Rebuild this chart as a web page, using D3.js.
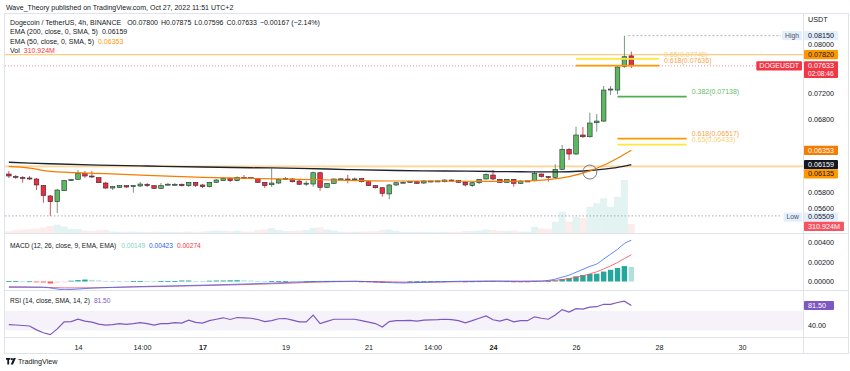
<!DOCTYPE html>
<html>
<head>
<meta charset="utf-8">
<script src="https://cdn.jsdelivr.net/npm/d3@7"></script>
<style>
  body { margin: 0; background: #fff; }
  svg { display: block; font-family: "Liberation Sans", Arial, sans-serif; }
</style>
</head>
<body>
<svg width="850" height="371"></svg>
<script>
// ---- data (DOGEUSDT 4h, Binance) ----
const opens = [0.06034,0.06002,0.05989,0.05982,0.05969,0.05885,0.05753,0.05682,0.05819,0.05950,
  0.05965,0.06043,0.06008,0.05986,0.05917,0.05853,0.05860,0.05883,0.05870,0.05879,
  0.05901,0.05883,0.05849,0.05901,0.05892,0.05901,0.05883,0.05926,0.05892,0.05870,
  0.05926,0.05947,0.05978,0.05947,0.05991,0.05986,0.05978,0.05926,0.05895,0.05917,
  0.05965,0.05969,0.05943,0.05913,0.05904,0.06051,0.05862,0.05913,0.05969,0.05969,
  0.05969,0.05973,0.05934,0.05883,0.05857,0.05778,0.05892,0.05926,0.05934,0.05934,
  0.05917,0.05937,0.05943,0.05934,0.05956,0.05947,0.05930,0.05883,0.05921,0.05969,
  0.06021,0.05965,0.05926,0.05965,0.05913,0.05943,0.05947,0.06034,0.06002,0.05991,
  0.06096,0.06366,0.06302,0.06568,0.06543,0.06745,0.06770,0.07253,0.07242,0.07619,
  0.07800];
const highs = [0.06074,0.06021,0.06008,0.06008,0.05982,0.05892,0.05765,0.05840,0.05956,0.05969,
  0.06087,0.06074,0.06074,0.05995,0.05930,0.05879,0.05892,0.05892,0.05892,0.05930,
  0.05917,0.05892,0.05917,0.05917,0.05917,0.05911,0.05930,0.05930,0.05904,0.05930,
  0.05969,0.05989,0.05989,0.06002,0.06021,0.05995,0.05982,0.05930,0.06109,0.05982,
  0.05995,0.05982,0.05956,0.05947,0.06065,0.06061,0.05917,0.05976,0.05982,0.06021,
  0.05989,0.05982,0.05943,0.05892,0.05866,0.05904,0.05930,0.05937,0.05943,0.05943,
  0.05956,0.05950,0.05950,0.05963,0.05963,0.05956,0.05937,0.05930,0.05969,0.06041,
  0.06087,0.05969,0.05969,0.05969,0.05950,0.05950,0.06065,0.06041,0.06008,0.06163,
  0.06426,0.06385,0.06687,0.06683,0.06894,0.06874,0.07306,0.07306,0.07647,0.08150,
  0.07875];
const lows = [0.05982,0.05969,0.05921,0.05956,0.05828,0.05669,0.05509,0.05544,0.05815,0.05943,
  0.05956,0.05982,0.05982,0.05917,0.05840,0.05828,0.05853,0.05853,0.05794,0.05866,
  0.05866,0.05840,0.05840,0.05892,0.05879,0.05873,0.05866,0.05866,0.05853,0.05860,
  0.05917,0.05943,0.05930,0.05937,0.05969,0.05969,0.05917,0.05853,0.05866,0.05904,
  0.05956,0.05924,0.05892,0.05879,0.05870,0.05819,0.05853,0.05904,0.05956,0.05913,
  0.05956,0.05924,0.05879,0.05847,0.05744,0.05712,0.05879,0.05917,0.05924,0.05904,
  0.05904,0.05924,0.05937,0.05924,0.05937,0.05917,0.05873,0.05866,0.05904,0.05963,
  0.05956,0.05917,0.05917,0.05870,0.05904,0.05937,0.05937,0.05989,0.05934,0.05969,
  0.06087,0.06220,0.06288,0.06525,0.06532,0.06615,0.06756,0.07164,0.07175,0.07598,
  0.07596];
const closes = [0.06008,0.05989,0.05976,0.05969,0.05892,0.05759,0.05682,0.05828,0.05947,0.05960,
  0.06043,0.06008,0.05995,0.05921,0.05853,0.05870,0.05883,0.05866,0.05883,0.05904,
  0.05883,0.05849,0.05883,0.05902,0.05901,0.05883,0.05926,0.05888,0.05870,0.05926,
  0.05956,0.05978,0.05947,0.05991,0.05982,0.05978,0.05926,0.05883,0.05917,0.05965,
  0.05978,0.05934,0.05901,0.05915,0.06051,0.05862,0.05913,0.05969,0.05971,0.05968,
  0.05970,0.05934,0.05883,0.05857,0.05786,0.05892,0.05921,0.05927,0.05935,0.05913,
  0.05943,0.05943,0.05944,0.05956,0.05943,0.05926,0.05892,0.05921,0.05965,0.06030,
  0.05969,0.05926,0.05965,0.05913,0.05943,0.05944,0.06041,0.06002,0.05995,0.06096,
  0.06366,0.06302,0.06568,0.06543,0.06741,0.06770,0.07242,0.07258,0.07614,0.07786,
  0.07633];
// volume in millions
const volumes = [60,100,120,140,155,190,240,290,225,140,
  140,85,70,95,105,50,40,45,50,40,
  35,45,40,30,35,40,45,40,55,65,
  85,70,65,85,50,50,100,120,170,105,
  65,70,85,105,175,195,120,85,45,40,
  40,50,55,60,105,120,70,35,35,40,
  40,35,30,40,35,45,70,65,85,120,
  105,70,65,85,50,45,215,155,140,390,
  735,390,560,520,905,1025,1195,905,1250,1830,
  310.924];

// moving averages, read at some candles
const emaIdx = [0,3,6,13,20,28,35,42,49,56,63,70,74,78,81,84,86,88,90];
const ema200 = [0.06190,0.06178,0.06170,0.06153,0.06140,0.06127,0.06117,0.06109,0.06093,0.06080,
  0.06074,0.06067,0.06064,0.06061,0.06064,0.06080,0.06098,0.06122,0.06159];
const ema50 = [0.06135,0.06113,0.06070,0.06043,0.06015,0.05991,0.05976,0.05965,0.05952,0.05943,
  0.05943,0.05937,0.05940,0.05960,0.06000,0.06075,0.06150,0.06245,0.06353];

// MACD (12, 26, 9)
const macdIdx = [0,5,8,12,18,25,32,38,44,50,54,57,60,65,70,74,77,79,80,81,82,83,84,85,86,87,88,89,90];
const macdLine = [-0.0006,-0.0006,-0.00084,-0.00068,-0.00053,-0.00043,-0.0003,-0.00017,0,0.00003,
  -0.00008,-0.00015,-0.00008,0.00002,0.00005,0.00002,0.00005,0.00025,0.00045,0.00065,
  0.00095,0.00125,0.00155,0.0018,0.0023,0.0028,0.0033,0.0039,0.00423];
const signalLine = [-0.00053,-0.00058,-0.00066,-0.00065,-0.00057,-0.00047,-0.00036,-0.00024,-0.00008,0.00001,
  -0.00002,-0.00007,-0.00008,-0.00002,0.00002,0.00002,0.00003,0.00012,0.0002,0.0003,
  0.00042,0.00058,0.00078,0.001,0.00128,0.0016,0.00195,0.00235,0.00274];
const macdHist = [0.00003,0.00003,0.00002,0.00002,-0.00005,-0.0001,-0.0002,-0.00012,-0.00005,0.00008,
  0.00014,0.0002,0.00017,0.00012,0.00006,0.00004,0.00003,0.00002,0.00004,0.00005,
  0.00003,0.00002,0.00003,0.00003,0.00004,0.0001,0.0001,0.00005,0.00004,0.00008,
  0.0001,0.0001,0.00012,0.00013,0.00012,0.0001,0.00004,0.00002,0.00003,0.00004,
  0.00004,0.00002,0.00001,0.00001,0.00004,0.00001,0.00002,0.00003,0.00003,0.00002,
  0.00001,-0.00002,-0.00005,-0.0001,-0.00012,-0.00006,-0.00003,-0.00001,0.00002,0.00004,
  0.00004,0.00004,0.00004,0.00005,0.00004,0.00002,-0.00001,0.00001,0.00002,0.00004,
  0.00004,0.00002,0.00002,-0.00002,-0.00003,-0.00003,0.00003,0.00002,0.00005,0.0001,
  0.00025,0.00035,0.00053,0.00067,0.00077,0.0008,0.00102,0.0012,0.00138,0.00158,
  0.00149];

// RSI (14)
const rsi = [42,41,40,39,31,25,21,33,47.5,48,
  53,49,47,43,40.7,42,44,42.5,44,46,
  44,41,44,44,46,45,51,46.5,45,50,
  53,56,52.5,56.6,56,55,52.5,48,50,54,
  54.5,51,47.5,47.5,61.4,44,48.5,53,53,53,
  53,50,47,44,37,48,50,50,50.5,49,
  51,51.5,52,53,52,50,45.5,50,55,60,
  52,49,53,47.5,50,50,58,55,53,62,
  73,68,75,74,78,79,84,84,87.7,90.5,
  81.5];

// drawn levels
const hLevels = [0.07820, 0.06135];
const fibRatios = ["0.65", "0.618", "0.382", "0.618", "0.65"];
const fibPrices = [0.07748, 0.07636, 0.07138, 0.06517, 0.06433];
const fibGroup = [0, 0, 1, 1, 1];
const fibSpans = [[Date.UTC(2022, 9, 26), Date.UTC(2022, 9, 28)],
                  [Date.UTC(2022, 9, 27), Date.UTC(2022, 9, 28, 16)]];
const crossMark = { time: Date.UTC(2022, 9, 26, 8), price: 0.0606 };

// axes
const priceTicks = [0.056, 0.058, 0.068, 0.072, 0.080];
const macdTicks = [0, 0.002, 0.004];
const rsiTicks = [40];
const dayTickDates = [Date.UTC(2022,9,14), Date.UTC(2022,9,15,13), Date.UTC(2022,9,17), Date.UTC(2022,9,19),
  Date.UTC(2022,9,21), Date.UTC(2022,9,22,13), Date.UTC(2022,9,24), Date.UTC(2022,9,26),
  Date.UTC(2022,9,28), Date.UTC(2022,9,30)];
const dayTickLabels = ["14", "14:00", "17", "19", "21", "14:00", "24", "26", "28", "30"];
const dayTickBold = [false, false, true, false, false, false, true, false, false, false];

// ---- layout ----
const svg = d3.select("svg");
const X0 = 5, X1 = 803;
const mainTop = 13, mainBot = 233, macdBot = 290, rsiBot = 337, axisBot = 353;
const T0 = Date.UTC(2022, 9, 12, 8);
const H4 = 4 * 3600e3;
const n = closes.length;
const t = i => new Date(T0 + i * H4);

const x = d3.scaleUtc().domain([Date.UTC(2022, 9, 14), Date.UTC(2022, 9, 30)]).range([78, 742]);
const step = x(t(1)) - x(t(0));
const y = d3.scaleLog().domain([0.05509, 0.08150]).range([215.9, 35.7]);
const vy = d3.scaleLinear().domain([0, 2000]).range([mainBot, 175]);
const my = d3.scaleLinear().domain([0, 0.004]).range([281.5, 242.5]);
const ry = d3.scaleLinear().domain([40, 81.5]).range([325.5, 305.5]);

const fmt5 = d3.format(".5f");
const txt = "#131722";
const axisFont = 7.2;

const defs = svg.append("defs");
[["clipMain", mainTop, mainBot], ["clipMacd", mainBot, macdBot], ["clipRsi", macdBot, rsiBot]].forEach(([id, a, b]) => {
  defs.append("clipPath").attr("id", id).append("rect")
    .attr("x", X0).attr("y", a).attr("width", X1 - X0).attr("height", b - a);
});

// header
svg.append("text").attr("x", 6).attr("y", 9.5).attr("font-size", 7).attr("fill", txt)
  .text("Wave_Theory published on TradingView.com, Oct 27, 2022 11:51 UTC+2");

// frame and separators
svg.append("rect").attr("x", 4.5).attr("y", mainTop + 0.5).attr("width", 844).attr("height", axisBot - mainTop)
  .attr("fill", "none").attr("stroke", "#e0e3eb");
[mainBot, macdBot, rsiBot].forEach(v => {
  svg.append("line").attr("x1", 4.5).attr("x2", 848.5).attr("y1", v + 0.5).attr("y2", v + 0.5)
    .attr("stroke", "#e0e3eb");
});
svg.append("line").attr("x1", X1 + 0.5).attr("x2", X1 + 0.5).attr("y1", mainTop).attr("y2", axisBot)
  .attr("stroke", "#e0e3eb");

// ---- main pane ----
const main = svg.append("g").attr("clip-path", "url(#clipMain)");
const up = i => closes[i] >= opens[i];

// volume
main.append("g").selectAll("rect").data(d3.range(n)).join("rect")
  .attr("x", i => x(t(i)) - step / 2)
  .attr("width", step)
  .attr("y", i => vy(volumes[i]))
  .attr("height", i => mainBot - vy(volumes[i]))
  .attr("fill", i => up(i) ? "#26a69a" : "#ef5350")
  .attr("fill-opacity", i => up(i) ? 0.13 : 0.11);

// horizontal levels
main.append("g").selectAll("line").data(hLevels).join("line")
  .attr("x1", X0).attr("x2", X1)
  .attr("y1", d => y(d)).attr("y2", d => y(d))
  .attr("stroke", "#ffb74d").attr("stroke-width", (d, k) => k === 0 ? 1 : 1.6)
  .attr("stroke-opacity", (d, k) => k === 0 ? 0.9 : 0.6);

// last price line
const lastY = y(closes[n - 1]);
main.append("line").attr("x1", X0).attr("x2", X1).attr("y1", lastY).attr("y2", lastY)
  .attr("stroke", "#f23645").attr("stroke-opacity", 0.55).attr("stroke-dasharray", "1,2");

// high / low lines
const hiIdx = d3.maxIndex(highs), loIdx = d3.minIndex(lows);
main.append("line").attr("x1", x(t(hiIdx)) + 4).attr("x2", 781).attr("y1", y(highs[hiIdx])).attr("y2", y(highs[hiIdx]))
  .attr("stroke", "#9598a1").attr("stroke-dasharray", "2,2").attr("stroke-width", 0.8);
main.append("line").attr("x1", X0).attr("x2", 781).attr("y1", y(lows[loIdx])).attr("y2", y(lows[loIdx]))
  .attr("stroke", "#9598a1").attr("stroke-dasharray", "1.5,2").attr("stroke-width", 0.8);

// candles
const bodyW = 4.6;
const candles = main.append("g");
candles.selectAll("line").data(d3.range(n)).join("line")
  .attr("x1", i => x(t(i))).attr("x2", i => x(t(i)))
  .attr("y1", i => y(highs[i])).attr("y2", i => y(lows[i]))
  .attr("stroke", i => up(i) ? "#6f9a80" : "#d9545d").attr("stroke-width", 1);
candles.selectAll("rect").data(d3.range(n)).join("rect")
  .attr("x", i => x(t(i)) - bodyW / 2)
  .attr("width", bodyW)
  .attr("y", i => Math.min(y(opens[i]), y(closes[i])))
  .attr("height", i => Math.max(1, Math.abs(y(opens[i]) - y(closes[i]))))
  .attr("fill", i => up(i) ? "#5cb85f" : "#ef2b3c")
  .attr("stroke", "#2a2e39").attr("stroke-width", 0.6);

// EMAs
const emaLine = arr => d3.line().x((d, k) => x(t(emaIdx[k]))).y(d => y(d)).curve(d3.curveMonotoneX)(arr);
main.append("path").attr("d", emaLine(ema200)).attr("fill", "none").attr("stroke", "#1e222d").attr("stroke-width", 1.3);
main.append("path").attr("d", emaLine(ema50)).attr("fill", "none").attr("stroke", "#f57c00").attr("stroke-width", 1.2);

// fib retracement levels
const fibColor = r => r === "0.382" ? "#4caf50" : r === "0.618" ? "#ff9800" : "#ffe83b";
const fibText = r => r === "0.382" ? "#66bb6a" : r === "0.618" ? "#f6a54c" : "#f7d074";
const fibs = svg.append("g");
fibPrices.forEach((p, k) => {
  const [a, b] = fibSpans[fibGroup[k]];
  fibs.append("line").attr("x1", x(a)).attr("x2", x(b)).attr("y1", y(p)).attr("y2", y(p))
    .attr("stroke", fibColor(fibRatios[k])).attr("stroke-width", 1.8);
  fibs.append("text").attr("x", x(b) + 5).attr("y", y(p) - 2.3).attr("font-size", 7)
    .attr("fill", fibText(fibRatios[k])).text(`${fibRatios[k]}(${fmt5(p)})`);
});

// EMA cross marker
main.append("circle").attr("cx", x(crossMark.time)).attr("cy", y(crossMark.price)).attr("r", 7)
  .attr("fill", "none").attr("stroke", "#787b86").attr("stroke-width", 1);

// ---- MACD pane ----
const macdG = svg.append("g").attr("clip-path", "url(#clipMacd)");
const histColor = i => {
  const v = macdHist[i], prev = i > 0 ? macdHist[i - 1] : v;
  if (v >= 0) return v >= prev ? "#26a69a" : "#b2dfdb";
  return v <= prev ? "#ff5252" : "#ffcdd2";
};
macdG.selectAll("rect").data(d3.range(n)).join("rect")
  .attr("x", i => x(t(i)) - 2.7).attr("width", 5.4)
  .attr("y", i => Math.min(my(0), my(macdHist[i])))
  .attr("height", i => Math.max(0.8, Math.abs(my(macdHist[i]) - my(0))))
  .attr("fill", histColor);
const mLine = arr => d3.line().x((d, k) => x(t(macdIdx[k]))).y(d => my(d)).curve(d3.curveMonotoneX)(arr);
macdG.append("path").attr("d", mLine(signalLine)).attr("fill", "none").attr("stroke", "#f7525f").attr("stroke-width", 1).attr("stroke-opacity", 0.85);
macdG.append("path").attr("d", mLine(macdLine)).attr("fill", "none").attr("stroke", "#2962ff").attr("stroke-width", 1).attr("stroke-opacity", 0.75);

// ---- RSI pane ----
const rsiG = svg.append("g").attr("clip-path", "url(#clipRsi)");
rsiG.append("rect").attr("x", X0).attr("width", X1 - X0).attr("y", ry(70)).attr("height", ry(30) - ry(70))
  .attr("fill", "#7e57c2").attr("fill-opacity", 0.08);
rsiG.append("path")
  .attr("d", d3.line().x((d, i) => x(t(i))).y(d => ry(d))(rsi))
  .attr("fill", "none").attr("stroke", "#7e57c2").attr("stroke-width", 1.2);

// ---- axes ----
const rightAxis = (scale, ticks, format) => {
  const g = svg.append("g").attr("transform", `translate(${X1},0)`)
    .call(d3.axisRight(scale).tickValues(ticks).tickFormat(format).tickSize(0).tickPadding(5));
  g.select(".domain").remove();
  g.selectAll("text").attr("font-size", axisFont).attr("fill", txt).attr("font-family", "Liberation Sans, Arial, sans-serif");
  return g;
};
rightAxis(y, priceTicks, fmt5);
rightAxis(my, macdTicks, fmt5);
rightAxis(ry, rsiTicks, d3.format(".2f"));

svg.append("text").attr("x", 808).attr("y", 22).attr("font-size", axisFont).attr("fill", txt).text("USDT");

const xg = svg.append("g").attr("transform", `translate(0,${rsiBot})`)
  .call(d3.axisBottom(x).tickValues(dayTickDates.map(d => new Date(d)))
    .tickFormat((d, k) => dayTickLabels[k]).tickSize(0).tickPadding(8));
xg.select(".domain").remove();
xg.selectAll("text").attr("font-size", axisFont).attr("fill", txt)
  .attr("font-family", "Liberation Sans, Arial, sans-serif")
  .attr("font-weight", (d, k) => dayTickBold[k] ? "bold" : "normal");

// ---- price scale labels ----
const priceLabels = [
  { v: y(highs[hiIdx]), lines: [fmt5(highs[hiIdx])], fill: "#e3effd", color: txt, tag: "High", tagFill: "#e3effd", tagColor: "#50535e" },
  { v: y(hLevels[0]), lines: [fmt5(hLevels[0])], fill: "#ff9800", color: txt },
  { v: lastY, lines: [fmt5(closes[n - 1]), "02:08:46"], fill: "#f23645", color: "#fff", tag: "DOGEUSDT", tagFill: "#f23645", tagColor: "#fff" },
  { v: y(ema50[ema50.length - 1]), lines: [fmt5(ema50[ema50.length - 1])], fill: "#f57c00", color: "#fff" },
  { v: y(ema200[ema200.length - 1]), lines: [fmt5(ema200[ema200.length - 1])], fill: "#131722", color: "#fff" },
  { v: y(hLevels[1]), lines: [fmt5(hLevels[1])], fill: "#ff9800", color: txt },
  { v: y(lows[loIdx]) + 1.2, lines: [fmt5(lows[loIdx])], fill: "#e3effd", color: txt, tag: "Low", tagFill: "#e3effd", tagColor: "#50535e" },
  { v: vy(volumes[n - 1]), lines: [d3.format(".3f")(volumes[n - 1]) + "M"], fill: "#f7525f", color: "#fff" }
];
const boxH = 9.2, lineH = 7.6;
let prevBottom = -Infinity;
priceLabels.sort((a, b) => a.v - b.v).forEach(l => {
  const h = boxH + (l.lines.length - 1) * lineH;
  l.top = Math.max(l.v - boxH / 2, prevBottom);
  prevBottom = l.top + h;
  l.h = h;
});
const lab = svg.append("g").attr("font-size", axisFont);
priceLabels.forEach(l => {
  const g = lab.append("g");
  const r = g.append("rect").attr("x", X1 + 1).attr("y", l.top).attr("height", l.h).attr("rx", 1).attr("fill", l.fill);
  let w = 0;
  l.lines.forEach((s, k) => {
    const tx = g.append("text").attr("x", X1 + 5).attr("y", l.top + 6.8 + k * lineH)
      .attr("font-size", k === 0 ? axisFont : 6.6).attr("fill", l.color).text(s);
    w = Math.max(w, tx.node().getComputedTextLength());
  });
  r.attr("width", w + 8);
  if (l.tag) {
    const tt = g.append("text").attr("y", l.top + 6.8).attr("fill", l.tagColor).attr("font-size", l.tag === "DOGEUSDT" ? 7 : 6.8).text(l.tag);
    const tw = tt.node().getComputedTextLength();
    tt.attr("x", X1 - tw - 4);
    g.insert("rect", "text").attr("x", X1 - tw - 7).attr("y", l.top).attr("width", tw + 6).attr("height", boxH).attr("rx", 1).attr("fill", l.tagFill);
  }
});
lab.append("rect").attr("x", X1 + 1).attr("y", ry(rsi[n - 1]) - boxH / 2).attr("width", 30).attr("height", boxH).attr("rx", 1).attr("fill", "#7e57c2");
lab.append("text").attr("x", X1 + 5).attr("y", ry(rsi[n - 1]) + 2.4).attr("fill", "#fff").text(d3.format(".2f")(rsi[n - 1]));

// ---- legends ----
const legend = svg.append("g").attr("font-size", 7).attr("fill", txt);
const l1 = legend.append("text").attr("x", 10).attr("y", 24.5);
l1.append("tspan").text("Dogecoin / TetherUS, 4h, BINANCE");
[["O", opens[n - 1]], ["H", highs[n - 1]], ["L", lows[n - 1]], ["C", closes[n - 1]]].forEach(([k, v], j) => {
  l1.append("tspan").attr("dx", j === 0 ? 6 : 3).text(k);
  l1.append("tspan").text(fmt5(v));
});
const chg = closes[n - 1] - opens[n - 1];
l1.append("tspan").attr("dx", 3).text(`\u2212${fmt5(-chg)} (\u2212${(-chg / opens[n - 1] * 100).toFixed(2)}%)`);

const l2 = legend.append("text").attr("x", 10).attr("y", 34.2);
l2.append("tspan").text("EMA (200, close, 0, SMA, 5)");
l2.append("tspan").attr("dx", 4).text(fmt5(ema200[ema200.length - 1]));
const l3 = legend.append("text").attr("x", 10).attr("y", 43.5);
l3.append("tspan").text("EMA (50, close, 0, SMA, 5)");
l3.append("tspan").attr("dx", 4).attr("fill", "#ff9800").text(fmt5(ema50[ema50.length - 1]));
const l4 = legend.append("text").attr("x", 10).attr("y", 52.8);
l4.append("tspan").text("Vol");
l4.append("tspan").attr("dx", 4).attr("fill", "#f23645").text(d3.format(".3f")(volumes[n - 1]) + "M");

const ml = svg.append("text").attr("x", 10).attr("y", 247.5).attr("font-size", 6.6).attr("fill", txt);
ml.append("tspan").text("MACD (12, 26, close, 9, EMA, EMA)");
ml.append("tspan").attr("dx", 5).attr("fill", "#7fd1c5").text(fmt5(macdHist[n - 1]));
ml.append("tspan").attr("dx", 4).attr("fill", "#2962ff").text(fmt5(macdLine[macdLine.length - 1]));
ml.append("tspan").attr("dx", 4).attr("fill", "#f23645").text(fmt5(signalLine[signalLine.length - 1]));

const rl = svg.append("text").attr("x", 10).attr("y", 302.5).attr("font-size", 6.6).attr("fill", txt);
rl.append("tspan").text("RSI (14, close, SMA, 14, 2)");
rl.append("tspan").attr("dx", 4).attr("fill", "#7e57c2").text(d3.format(".2f")(rsi[n - 1]));

// ---- TradingView mark ----
const logo = svg.append("g").attr("transform", "translate(6,358)").attr("fill", txt);
logo.append("path").attr("d", "M0 0h4.4v1.8h-1.3v4.6h-1.8v-4.6h-1.3z");
logo.append("circle").attr("cx", 5.9).attr("cy", 1.1).attr("r", 1.1);
logo.append("path").attr("d", "M7.6 0h2.3l-2.9 6.4h-2.3z");
svg.append("text").attr("x", 18).attr("y", 364.4).attr("font-size", 7.2).attr("fill", txt).text("TradingView");
</script>
</body>
</html>
